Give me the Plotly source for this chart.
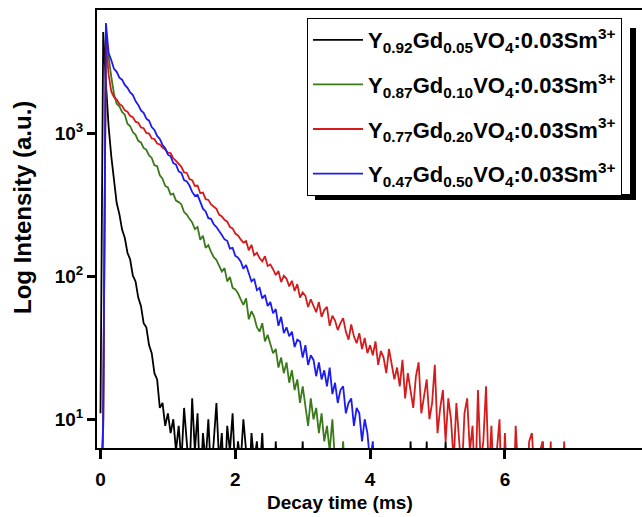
import plotly.graph_objects as go

# Sampling grid of the decay curves (ms)
DT = 0.04

# Photon counts, one value every DT ms starting at t = 0
black_counts = [
    11, 5100, 2250, 1120, 690, 470, 325, 272, 212, 186,
    146, 131, 101, 92, 71, 62, 47, 44, 33, 29,
    21, 19, 12, 13, 9, 11, 8, 10, 6, 9,
    5, 12, 7, 4, 14, 6, 11, 3, 8, 5,
    10, 4, 7, 13, 5, 8, 3, 9, 6, 11,
    4, 7, 5, 10, 6, 3, 8, 5, 7, 4,
    8, 3, 6, 4, 2, 7, 3, 5, 2, 6,
    3, 2, 5, 1, 3, 7, 2, 4, 1, 3,
    2, 6, 1, 3, 2, 1, 4, 2, 1, 2,
    1, 2, 1, 3, 1, 2, 1, 1, 2, 1,
    2, 1, 3, 1, 1, 2, 1, 1, 3, 1,
    2, 1, 1, 3, 1, 7, 2, 1, 6, 1,
    2, 7, 1, 2, 1, 3, 1, 2, 7, 1,
    1, 2, 1, 3, 1, 1, 2, 1, 3, 1,
    2, 1, 1, 2, 1, 3, 1, 1, 2, 1,
    1, 2, 1, 1, 3, 1, 2, 1, 1, 2,
    1, 3, 1, 1, 7, 1, 2, 1,
]

green_counts = [
    2, 9, 4700, 3250, 2480, 1890, 1610, 1545, 1410, 1350,
    1165, 1120, 1020, 975, 885, 862, 790, 765, 700, 672,
    598, 588, 508, 482, 428, 418, 372, 378, 338, 330,
    318, 281, 270, 252, 238, 214, 221, 180, 192, 158,
    165, 148, 136, 130, 118, 108, 114, 92, 99, 83,
    81, 76, 69, 63, 70, 50, 57, 52, 44, 41,
    47, 35, 39, 33, 29, 31, 23, 27, 21, 25,
    18, 22, 16, 19, 13, 17, 12, 9, 14, 10,
    12, 8, 11, 7, 9, 6, 10, 5, 6, 4,
    7, 3, 5, 2, 6, 1, 2, 1,
]

red_counts = [
    2, 9, 4450, 2580, 1960, 1790, 1720, 1600, 1555, 1445,
    1415, 1322, 1295, 1205, 1185, 1098, 1085, 1005, 995, 921,
    912, 848, 835, 795, 771, 732, 728, 668, 640, 611,
    582, 532, 528, 478, 470, 428, 431, 381, 385, 346,
    342, 318, 305, 296, 270, 262, 248, 241, 221, 216,
    199, 193, 181, 172, 176, 152, 166, 140, 146, 134,
    127, 138, 118, 121, 112, 102, 109, 91, 101, 96,
    85, 93, 79, 88, 71, 77, 73, 61, 69, 63,
    56, 66, 52, 58, 61, 45, 53, 49, 42, 47,
    51, 41, 36, 46, 38, 34, 40, 31, 37, 29,
    33, 28, 35, 24, 30, 27, 21, 31, 25, 19,
    23, 17, 26, 14, 21, 16, 12, 20, 25, 11,
    15, 19, 10, 13, 24, 8, 12, 16, 7, 14,
    10, 5, 13, 8, 4, 11, 14, 6, 9, 3,
    16, 5, 7, 17, 4, 9, 3, 6, 10, 2,
    8, 3, 6, 2, 9, 4, 2, 5, 3, 7,
    8, 4, 1, 6, 7, 1, 2, 7, 1, 2,
    1, 3, 7, 1,
]

blue_counts = [
    2, 10, 5900, 3650, 3240, 2820, 2690, 2450, 2370, 2180,
    2080, 1930, 1850, 1680, 1580, 1445, 1390, 1265, 1225, 1105,
    1055, 958, 912, 828, 785, 708, 692, 618, 604, 541,
    528, 470, 461, 431, 389, 365, 371, 330, 297, 284,
    255, 252, 231, 221, 209, 194, 181, 177, 156, 158,
    139, 135, 127, 113, 120, 104, 92, 96, 80, 83,
    70, 74, 62, 66, 55, 59, 45, 52, 40, 44,
    38, 41, 32, 36, 35, 27, 33, 24, 28, 26,
    20, 25, 19, 22, 17, 23, 15, 18, 13, 16,
    17, 11, 13, 14, 9, 12, 11, 7, 10, 8,
    5, 7, 3, 6, 2, 4, 1, 5, 2, 1,
    3, 1,
]

series_names = [
    "Y<sub>0.92</sub>Gd<sub>0.05</sub>VO<sub>4</sub>:0.03Sm<sup>3+</sup>",
    "Y<sub>0.87</sub>Gd<sub>0.10</sub>VO<sub>4</sub>:0.03Sm<sup>3+</sup>",
    "Y<sub>0.77</sub>Gd<sub>0.20</sub>VO<sub>4</sub>:0.03Sm<sup>3+</sup>",
    "Y<sub>0.47</sub>Gd<sub>0.50</sub>VO<sub>4</sub>:0.03Sm<sup>3+</sup>",
]
series_counts = [black_counts, green_counts, red_counts, blue_counts]
series_colors = ["#000000", "#3b7a1a", "#d41c1c", "#1c1cf2"]

x_ticks = [0, 2, 4, 6]
y_ticks = [10, 100, 1000]
y_ticktext = ["10<sup>1</sup>", "10<sup>2</sup>", "10<sup>3</sup>"]

fig = go.Figure()
for i, (name, counts, color) in enumerate(zip(series_names, series_counts, series_colors)):
    t = [round(k * DT, 2) for k in range(len(counts))]
    fig.add_trace(go.Scatter(
        x=t, y=counts, mode="lines", name=name,
        line=dict(color=color, width=1.8),
        legendgroup=f"g{i}",
    ))

FONT = "Liberation Sans, Arial, sans-serif"

fig.update_layout(
    width=642, height=517,
    margin=dict(l=97, r=0, t=10, b=69),
    paper_bgcolor="white", plot_bgcolor="white",
    font=dict(family=FONT, color="black"),
    showlegend=True,
    legend=dict(
        x=(307 - 97) / 545, xanchor="left",
        y=(448 - 18) / 438, yanchor="top",
        bgcolor="white", bordercolor="black", borderwidth=1,
        font=dict(family=FONT, size=22, color="black", weight="bold"),
        itemwidth=50,
        traceorder="grouped", tracegroupgap=13,
    ),
    xaxis=dict(
        range=[-0.052, 8.034],
        tickvals=x_ticks, ticktext=[str(v) for v in x_ticks],
        ticks="outside", ticklen=9, tickwidth=3, tickcolor="black",
        ticklabelstandoff=4,
        showline=True, linewidth=2, linecolor="black", mirror=True,
        showgrid=False, zeroline=False,
        tickfont=dict(family=FONT, size=19, color="black", weight="bold"),
    ),
    yaxis=dict(
        type="log", range=[0.799, 3.862],
        tickvals=y_ticks, ticktext=y_ticktext,
        ticks="outside", ticklen=8, tickwidth=2.5, tickcolor="black",
        showline=True, linewidth=2, linecolor="black", mirror=False,
        showgrid=False, zeroline=False,
        tickfont=dict(family=FONT, size=19, color="black", weight="bold"),
    ),
    annotations=[
        dict(text="Decay time (ms)", xref="paper", yref="paper",
             x=(340 - 97) / 545, y=(448 - 502) / 438, xanchor="center", yanchor="middle",
             showarrow=False, font=dict(family=FONT, size=19, color="black", weight="bold")),
        dict(text="Log Intensity (a.u.)", xref="paper", yref="paper", textangle=-90,
             x=(22 - 97) / 545, y=(448 - 208) / 438, xanchor="center", yanchor="middle",
             showarrow=False, font=dict(family=FONT, size=24, color="black", weight="bold")),
    ],
    shapes=[
        dict(type="rect", xref="paper", yref="paper", layer="above",
             x0=(630 - 97) / 545, x1=(636 - 97) / 545,
             y0=(448 - 200) / 438, y1=(448 - 28) / 438,
             fillcolor="black", line=dict(width=0)),
        dict(type="rect", xref="paper", yref="paper", layer="above",
             x0=(315 - 97) / 545, x1=(636 - 97) / 545,
             y0=(448 - 200) / 438, y1=(448 - 194) / 438,
             fillcolor="black", line=dict(width=0)),
    ],
)

fig.write_html("out.html")
